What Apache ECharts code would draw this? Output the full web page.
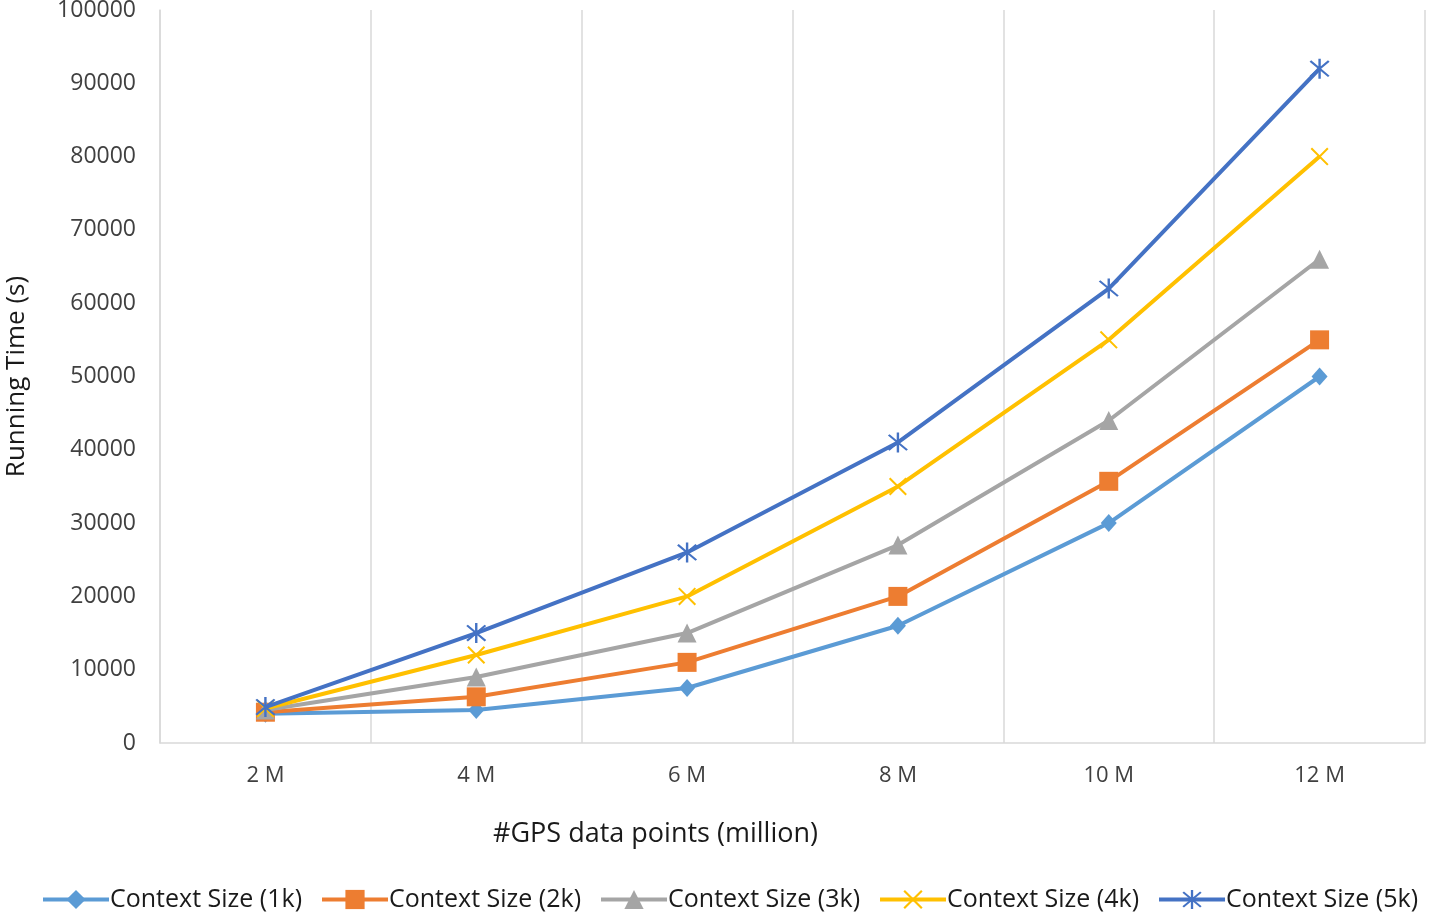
<!DOCTYPE html>
<html><head><meta charset="utf-8">
<script src="https://cdn.jsdelivr.net/npm/echarts@6/dist/echarts.min.js"></script>
<style>html,body{margin:0;padding:0;background:#fff}#c{width:1429px;height:917px}</style>
</head><body><div id="c"></div>
<script>
const categories = ['2 M', '4 M', '6 M', '8 M', '10 M', '12 M'];
const seriesNames = ['Context Size (1k)', 'Context Size (2k)', 'Context Size (3k)', 'Context Size (4k)', 'Context Size (5k)'];
const ctx1k = [4000, 4500, 7500, 16000, 30000, 50000];
const ctx2k = [4200, 6300, 11000, 20000, 35700, 55000];
const ctx3k = [4500, 9000, 15000, 27000, 44000, 66000];
const ctx4k = [4700, 12000, 20000, 35000, 55000, 80000];
const ctx5k = [4900, 15000, 26000, 41000, 62000, 92000];
const yMin = 0, yMax = 100000, yStep = 10000;

const colors = ['#5B9BD5', '#ED7D31', '#A5A5A5', '#FFC000', '#4472C4'];
const xPath = 'path://M8 0 L100 92 L92 100 L0 8 Z M92 0 L100 8 L8 100 L0 92 Z';
const starPath = 'path://M8 0 L100 92 L92 100 L0 8 Z M92 0 L100 8 L8 100 L0 92 Z M44 -10 L56 -10 L56 110 L44 110 Z';
const symbols = ['diamond', 'rect', 'triangle', xPath, starPath];
const sizes = [[16, 18], 19, 19, 18, 20];
const data = [ctx1k, ctx2k, ctx3k, ctx4k, ctx5k];
const font = 'Open Sans, Noto Sans, sans-serif';

const chart = echarts.init(document.getElementById('c'));
chart.setOption({
  animation: false,
  color: colors,
  grid: {left: 160, right: 4, top: 10, bottom: 174, containLabel: false, outerBoundsMode: 'none'},
  legend: {
    bottom: 0, left: 36, itemWidth: 66, itemHeight: 24, itemGap: 18,
    lineStyle: {width: 4},
    textStyle: {fontFamily: font, fontSize: 25, color: '#1a1a1a', padding: [0, 0, 0, -4]},
    data: seriesNames
  },
  xAxis: {
    type: 'category', data: categories, boundaryGap: true,
    axisLine: {lineStyle: {color: '#d9d9d9', width: 1.5}},
    axisTick: {show: false},
    splitLine: {show: true, lineStyle: {color: '#d9d9d9', width: 1.5}},
    axisLabel: {fontFamily: font, fontSize: 22, color: '#404040', margin: 22},
    name: '#GPS data points (million)', nameLocation: 'middle', nameGap: 78,
    nameTextStyle: {fontFamily: font, fontSize: 27, color: '#1a1a1a', padding: [0, 274, 0, 0]}
  },
  yAxis: {
    type: 'value', min: yMin, max: yMax, interval: yStep,
    axisLine: {show: true, lineStyle: {color: '#d9d9d9', width: 1.5}},
    axisTick: {show: false},
    splitLine: {show: false},
    axisLabel: {fontFamily: font, fontSize: 23, color: '#404040', margin: 24, formatter: v => String(v)},
    name: 'Running Time (s)', nameLocation: 'middle', nameGap: 130,
    nameTextStyle: {fontFamily: font, fontSize: 26, color: '#1a1a1a'}
  },
  series: seriesNames.map((n, i) => ({
    name: n, type: 'line', data: data[i],
    symbol: symbols[i], symbolSize: sizes[i], showAllSymbol: true,
    lineStyle: {width: 4, color: colors[i]},
    itemStyle: {color: colors[i]},
    z: 2 + i
  }))
});
</script></body></html>
